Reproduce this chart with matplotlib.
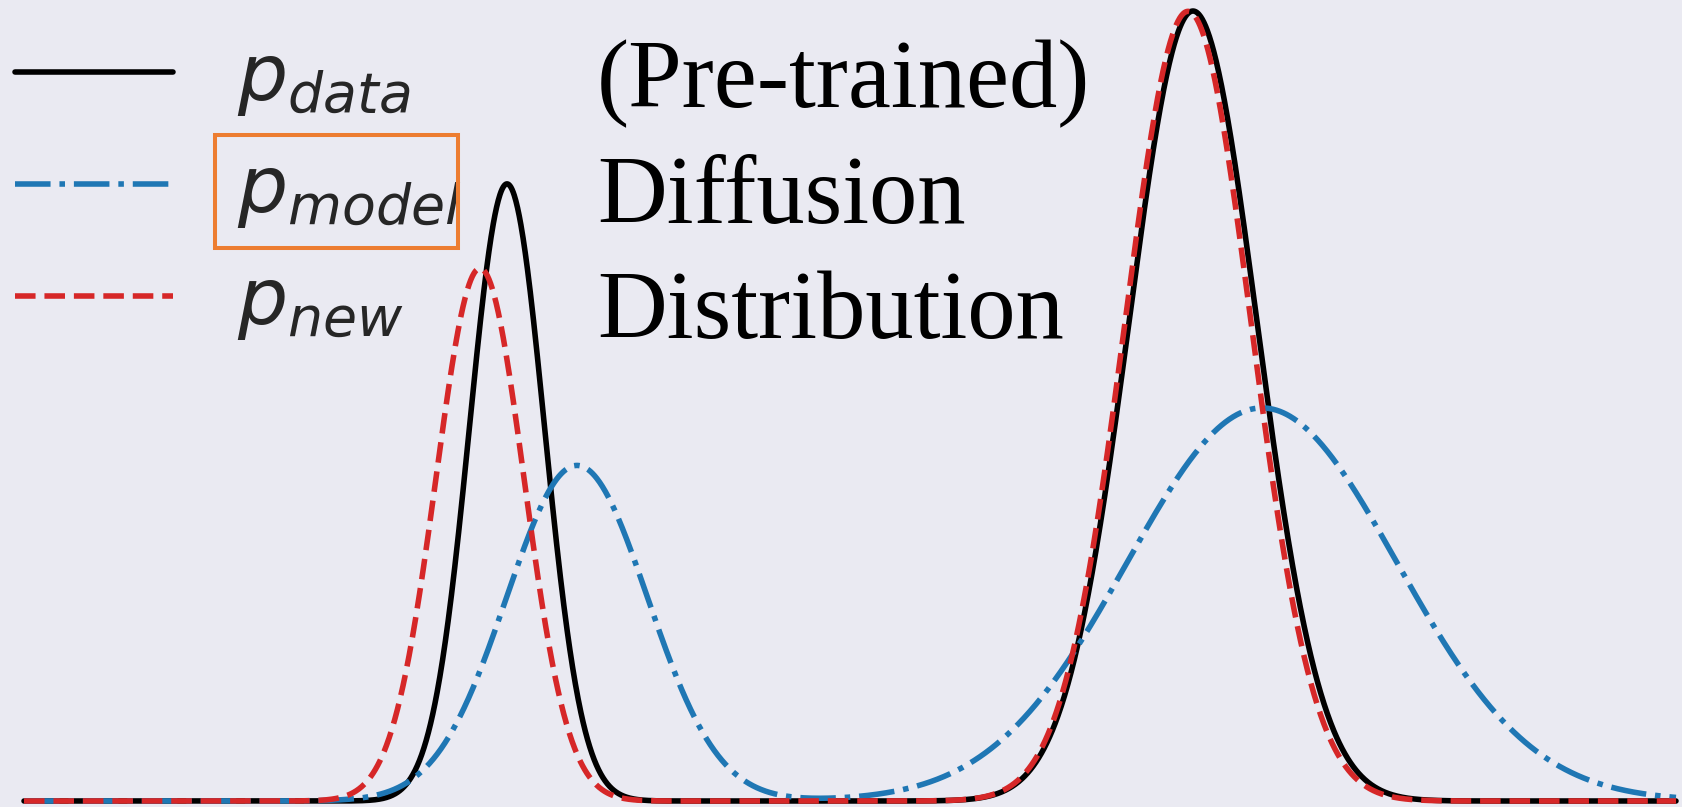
import numpy as np
import matplotlib
matplotlib.use("Agg")
import matplotlib.pyplot as plt
from matplotlib.patches import Rectangle

# ---- data: Gaussian-mixture parameters ----
labels = [r"$p_{data}$", r"$p_{model}$", r"$p_{new}$"]
data_weights = [0.314, 0.686]
data_means = [4.83, 11.69]
data_stds = [0.375, 0.64]

model_weights = [0.321, 0.72]
model_means = [5.53, 12.38]
model_stds = [0.705, 1.35]

new_weights = [0.318, 0.675]
new_means = [4.56, 11.64]
new_stds = [0.44, 0.63]

x_range = [0.0, 16.52]
text_lines = ["(Pre-trained)", "Diffusion", "Distribution"]

W, H = 1682, 807
BG = "#EAEAF2"


def mixture(x, w, m, s):
    y = np.zeros_like(x)
    for wi, mi, si in zip(w, m, s):
        y += wi * np.exp(-0.5 * ((x - mi) / si) ** 2) / (si * np.sqrt(2 * np.pi))
    return y


x = np.linspace(x_range[0], x_range[1], 3000)

fig = plt.figure(figsize=(W / 100, H / 100), dpi=100)
fig.patch.set_facecolor(BG)
ax = fig.add_axes([0, 0, 1, 1])
ax.set_facecolor(BG)

lw = 4
l_data, = ax.plot(x, mixture(x, data_weights, data_means, data_stds),
                  color="black", lw=lw, solid_capstyle="round", zorder=2)
l_model, = ax.plot(x, mixture(x, model_weights, model_means, model_stds),
                   color="#1f77b4", lw=lw, ls="-.", zorder=3)
l_new, = ax.plot(x, mixture(x, new_weights, new_means, new_stds),
                 color="#d62728", lw=lw, ls="--", zorder=4)

K = 1847.4  # pixels per density unit
ax.set_ylim(-6 / K, 801 / K)
ax.set_xlim(-0.24, 16.58)
for sp in ax.spines.values():
    sp.set_visible(False)
ax.set_xticks([])
ax.set_yticks([])

leg = ax.legend([l_data, l_model, l_new], labels, loc="upper left",
                bbox_to_anchor=(15 / W, 1 - 40 / H), bbox_transform=fig.transFigure,
                fontsize=57, frameon=False, handlelength=2, handletextpad=0.8,
                labelspacing=0.43, borderpad=0, borderaxespad=0,
                labelcolor="#262626")

# orange highlight box around p_model
rect = Rectangle((215 / W, 1 - 248 / H), 243 / W, 113.5 / H,
                 transform=fig.transFigure, fill=False, edgecolor="#ED7D31",
                 lw=2.9, zorder=10)
fig.add_artist(rect)

baselines = [107.3, 223.3, 338.3]
for t, b in zip(text_lines, baselines):
    fig.text(597 / W, 1 - b / H, t, family="Liberation Serif", fontsize=69.5,
             color="black", ha="left", va="baseline")

fig.savefig("out.png", dpi=100, facecolor=BG)
